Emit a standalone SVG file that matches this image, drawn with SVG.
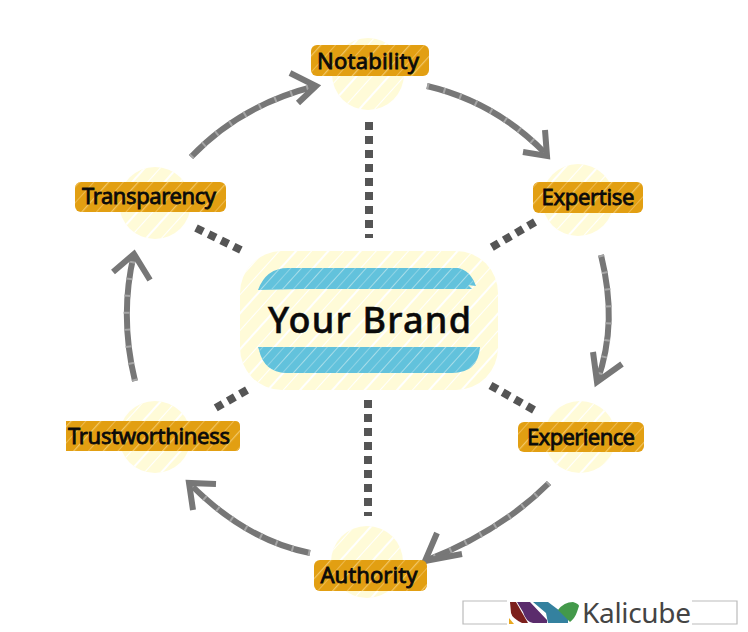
<svg xmlns="http://www.w3.org/2000/svg" width="748" height="632" viewBox="0 0 748 632">
<style>
.halo{fill:#fffbd8}
.halo2{fill:url(#hatchY)}
.lab{fill:#e29f12}
.lab2{fill:url(#hatchO)}
.bar{fill:#62c2dc}
.bar2{fill:url(#hatchB)}
.t{font-family:"Noto Sans","DejaVu Sans",sans-serif;font-size:22px;fill:#0a0a0a;stroke:#0a0a0a;stroke-width:.8;text-anchor:middle}
.arrow{fill:none;stroke:#777;stroke-width:6;stroke-linecap:butt;stroke-linejoin:miter}
.sheen{fill:none;stroke:#a5a5a5;stroke-width:6;stroke-dasharray:2 15}
.dots{fill:none;stroke:#555;stroke-width:8;stroke-dasharray:8 6}
</style>
<defs>
<pattern id="hatchY" width="24" height="24" patternUnits="userSpaceOnUse" patternTransform="rotate(-48)"><rect y="3" width="24" height="2" fill="#fff"/><rect y="15" width="24" height="1" fill="#fff"/></pattern>
<pattern id="hatchO" width="22" height="22" patternUnits="userSpaceOnUse" patternTransform="rotate(-48)"><rect y="4" width="22" height="1.200" fill="#f1c666"/><rect y="15" width="22" height="1" fill="#eeb94e"/></pattern>
<pattern id="hatchB" width="16" height="16" patternUnits="userSpaceOnUse" patternTransform="rotate(-48)"><rect y="3" width="16" height="1" fill="#a8dde9"/><rect y="11" width="16" height="1" fill="#8fd3e5"/></pattern>
</defs>

<g id="connectors">
<path class="arrow" d="M427 86Q495 102 545 153"/><path class="sheen" d="M427 86Q495 102 545 153"/><path class="arrow" d="M523 152L547 156L545 130"/>
<path class="arrow" d="M601 255C612 300 612 340 597 382"/><path class="sheen" d="M601 255C612 300 612 340 597 382"/><path class="arrow" d="M622 364L597 382L593 352"/>
<path class="arrow" d="M549 483Q500 532 425 561"/><path class="sheen" d="M549 483Q500 532 425 561"/><path class="arrow" d="M437 533L425 561L462 554"/>
<path class="arrow" d="M310 553Q245 540 189 483"/><path class="sheen" d="M310 553Q245 540 189 483"/><path class="arrow" d="M216 484L189 483L193 510"/>
<path class="arrow" d="M135 381C125 340 123 300 134 254"/><path class="sheen" d="M135 381C125 340 123 300 134 254"/><path class="arrow" d="M113 272L134 254L150 280"/>
<path class="arrow" d="M191 157Q240 105 316 86"/><path class="sheen" d="M191 157Q240 105 316 86"/><path class="arrow" d="M290 73L316 86L298 103"/>
<path class="dots" d="M369 122V238"/>
<path class="dots" d="M535 222L487 250"/>
<path class="dots" d="M534 410L488 384"/>
<path class="dots" d="M368 400V516"/>
<path class="dots" d="M247 390L212 410"/>
<path class="dots" d="M196 228L245 252"/>
</g>

<g id="your-brand">
<rect class="halo" x="240" y="251" width="258" height="139" rx="42"/>
<rect class="halo2" x="240" y="251" width="258" height="139" rx="42"/>
<path class="bar" d="M258 290Q266 268 288 268H458Q470 270 476 286L468 285L472 289L300 289Z"/>
<path class="bar2" d="M258 290Q266 268 288 268H458Q470 270 476 286L468 285L472 289L300 289Z"/>
<path class="bar" d="M258 347L480 347Q478 373 452 373H286Q264 372 259 350Z"/>
<path class="bar2" d="M258 347L480 347Q478 373 452 373H286Q264 372 259 350Z"/>
<text x="369.500" y="333" text-anchor="middle" font-family="'Noto Sans','DejaVu Sans',sans-serif" font-size="36" font-weight="500" fill="#0a0a0a" stroke="#0a0a0a" stroke-width=".5" textLength="203" lengthAdjust="spacing">Your Brand</text>
</g>

<g id="notability">
<circle class="halo" cx="368" cy="74" r="36"/><circle class="halo2" cx="368" cy="74" r="36"/>
<rect class="lab" x="311" y="45" width="118" height="31" rx="6"/><rect class="lab2" x="311" y="45" width="118" height="31" rx="6"/>
<text class="t" x="368" y="69" textLength="102">Notability</text>
</g>
<g id="expertise">
<circle class="halo" cx="578" cy="200" r="36"/><circle class="halo2" cx="578" cy="200" r="36"/>
<rect class="lab" x="533" y="182" width="110" height="31" rx="6"/><rect class="lab2" x="533" y="182" width="110" height="31" rx="6"/>
<text class="t" x="588" y="205" textLength="93">Expertise</text>
</g>
<g id="experience">
<circle class="halo" cx="580" cy="437" r="36"/><circle class="halo2" cx="580" cy="437" r="36"/>
<rect class="lab" x="518" y="422" width="126" height="30" rx="6"/><rect class="lab2" x="518" y="422" width="126" height="30" rx="6"/>
<text class="t" x="581" y="445" textLength="108">Experience</text>
</g>
<g id="authority">
<circle class="halo" cx="367" cy="562" r="36"/><circle class="halo2" cx="367" cy="562" r="36"/>
<rect class="lab" x="314" y="560" width="113" height="31" rx="6"/><rect class="lab2" x="314" y="560" width="113" height="31" rx="6"/>
<text class="t" x="369" y="583" textLength="97">Authority</text>
</g>
<g id="trustworthiness">
<circle class="halo" cx="155" cy="437" r="36"/><circle class="halo2" cx="155" cy="437" r="36"/>
<path class="lab" d="M66 421H235Q240 421 240 426V446Q240 451 235 451H66Z"/><path class="lab2" d="M66 421H235Q240 421 240 426V446Q240 451 235 451H66Z"/>
<text class="t" x="149" y="444" textLength="162">Trustworthiness</text>
</g>
<g id="transparency">
<circle class="halo" cx="155" cy="203" r="36"/><circle class="halo2" cx="155" cy="203" r="36"/>
<rect class="lab" x="75" y="182" width="151" height="30" rx="6"/><rect class="lab2" x="75" y="182" width="151" height="30" rx="6"/>
<text class="t" x="149" y="204" textLength="134">Transparency</text>
</g>

<g id="logo">
<path d="M507 601H463V624H507M692 601H737V624H692" fill="none" stroke="#bbb" stroke-width="1.200"/>
<path d="M510 602H516L528 623H522Q512 618 511 613Z" fill="#7c1f1c"/>
<path d="M517 602H530L547 620V623H533Q526 622 523 612Z" fill="#5b2c6c"/>
<path d="M533 602H548L568 617V623H548L546 613Z" fill="#34819f"/>
<path d="M558 610Q564 602 573 602Q579 604 579 606L577 612Q575 618 570 622Z" fill="#43994a"/>
<path d="M509 624V618L514 624Z" fill="#e8a820"/>
<text x="582" y="623" font-family="'Noto Sans','Open Sans',sans-serif" font-size="28" fill="#444" textLength="109">Kalicube</text>
</g>
</svg>
